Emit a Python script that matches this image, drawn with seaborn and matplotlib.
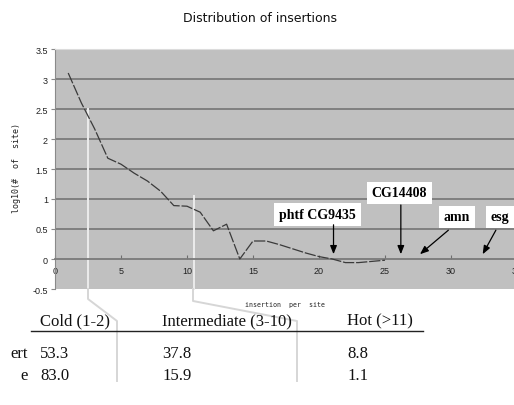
import matplotlib
matplotlib.use("Agg")
import pandas as pd
import matplotlib.pyplot as plt
import seaborn as sns

# log10(# of sites) for each number of insertions per site
insertions = list(range(1, 26))
log_sites = [3.10, 2.60, 2.17, 1.68, 1.58, 1.43, 1.30, 1.13, 0.89, 0.88,
             0.78, 0.47, 0.58, 0.00, 0.30, 0.30, 0.24, 0.17, 0.10, 0.04,
             0.00, -0.06, -0.06, -0.04, -0.02]

# genes marked on the curve (insertions per site)
genes = ["phtf CG9435", "CG14408", "amn", "esg"]
gene_pos = [21.1, 26.2, 27.65, 32.4]

# class table below the chart (percent)
classes = ["Cold (1-2)", "Intermediate (3-10)", "Hot (>11)"]
row_labels = ["ert", "e"]
insert_pct = [53.3, 37.8, 8.8]
site_pct = [83.0, 15.9, 1.1]
class_bounds = [2.5, 10.5]
bound_tops = [2.5, 1.05]

W, H = 514, 406


def fpx(x, y):  # pixel -> figure fraction
    return x / W, 1 - y / H


df = pd.DataFrame({'insertions': insertions, 'log_sites': log_sites})

fig = plt.figure(figsize=(W / 100, H / 100), dpi=100)
ax = fig.add_axes([55 / W, 116 / H, (517 - 55) / W, 240 / H])
ax.set_facecolor('#c0c0c0')

for yv in [0.5, 1, 1.5, 2, 2.5, 3]:
    ax.axhline(yv, color='#6e6e6e', lw=1.1, zorder=1)

# class boundary connectors (inside plot)
for xb, yt in zip(class_bounds, bound_tops):
    ax.plot([xb, xb], [yt, -0.5], color='#ececec', lw=1.4, zorder=2, clip_on=False)

sns.lineplot(data=df, x='insertions', y='log_sites', ax=ax, color='#3a3a3a',
             lw=0.9, linestyle=(0, (9, 1.5)), zorder=3)

ax.set_xlim(0, 35)
ax.set_ylim(-0.5, 3.5)
ax.set_xticks(range(0, 36, 5))
ax.set_yticks([-0.5, 0, 0.5, 1, 1.5, 2, 2.5, 3, 3.5])
ax.set_yticklabels(['-0.5', '0', '0.5', '1', '1.5', '2', '2.5', '3', '3.5'])
ax.spines['bottom'].set_position(('data', 0))
ax.spines['bottom'].set_color('#7a7a7a')
ax.spines['bottom'].set_linewidth(1.3)
ax.spines['left'].set_color('#8a8a8a')
ax.spines['top'].set_color('#dcdcdc')
ax.spines['right'].set_visible(False)
ax.tick_params(axis='x', direction='in', length=3, color='#6e6e6e', pad=5,
               labelsize=6.5, labelcolor='#222222')
ax.tick_params(axis='y', direction='out', length=3, color='#8a8a8a', pad=2,
               labelsize=6.5, labelcolor='#222222')
for t in ax.get_xticklabels() + ax.get_yticklabels():
    t.set_fontfamily('Liberation Sans')
ax.set_xlabel('')
ax.set_ylabel('')

fig.text(*fpx(260, 18), 'Distribution of insertions', ha='center', va='center',
         fontsize=9, family='DejaVu Sans', color='#111111')
fig.text(*fpx(17, 168), 'log10(#  of  site)', rotation=90, ha='center', va='center',
         fontsize=6, family='DejaVu Sans Mono', color='#222222')
fig.text(*fpx(285, 305), 'insertion  per  site', ha='center', va='center',
         fontsize=4.8, family='DejaVu Sans Mono', color='#222222')

# gene labels with arrows
label_xy = [(19.9, 0.74), (26.1, 1.1), (30.45, 0.70), (33.7, 0.70)]
arrow_from = [(21.1, 0.57), (26.2, 0.90), (29.8, 0.48), (33.4, 0.48)]
for name, gx, (lx, ly), (ax0, ay0) in zip(genes, gene_pos, label_xy, arrow_from):
    ax.text(lx, ly, name, ha='center', va='center', fontsize=10, fontweight='bold',
            family='Liberation Serif', zorder=5,
            bbox=dict(boxstyle='square,pad=0.35', fc='white', ec='none'))
    ax.annotate('', xy=(gx, 0.08), xytext=(ax0, ay0), zorder=5,
                arrowprops=dict(arrowstyle='-|>,head_length=0.5,head_width=0.2',
                                color='black', lw=0.9, shrinkA=0, shrinkB=0))

# connectors from boundaries down to the table
conn = [[(88, 290), (88, 300), (117, 322), (117, 382)],
        [(193, 290), (193, 302), (297, 322), (297, 382)]]
for pts in conn:
    xs = [fpx(*p)[0] for p in pts]
    ys = [fpx(*p)[1] for p in pts]
    fig.add_artist(plt.Line2D(xs, ys, transform=fig.transFigure, color='#d6d6d6', lw=1.4))

# table
col_x = [40, 162, 347]
serif = dict(family='Liberation Serif', fontsize=12, color='#111111', va='center')
for cx, c in zip(col_x, classes):
    fig.text(*fpx(cx, 321), c, ha='left', **serif)
fig.add_artist(plt.Line2D([31 / W, 423 / W], [1 - 332 / H] * 2,
                          transform=fig.transFigure, color='#222222', lw=1))
for ry, lab, vals in zip([354, 376], row_labels, [insert_pct, site_pct]):
    fig.text(*fpx(28, ry), lab, ha='right', **serif)
    for cx, v in zip(col_x, vals):
        fig.text(*fpx(cx, ry), f'{v:.1f}', ha='left', **serif)

fig.savefig('out.png', dpi=100)
